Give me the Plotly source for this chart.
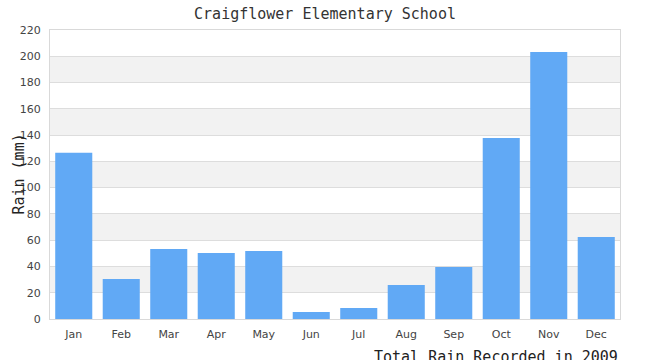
import plotly.graph_objects as go

months = ["Jan", "Feb", "Mar", "Apr", "May", "Jun", "Jul", "Aug", "Sep", "Oct", "Nov", "Dec"]
rain_mm = [126.5, 30.5, 53.3, 50.2, 51.8, 5.3, 8.4, 25.9, 39.6, 137.8, 203.3, 62.4]
y_ticks = list(range(0, 221, 20))

title_text = "Craigflower Elementary School"
y_title = "Rain (mm)"
x_note = "Total Rain Recorded in 2009"

mono = "DejaVu Sans Mono"
sans = "DejaVu Sans"

fig = go.Figure()
fig.add_trace(go.Bar(x=months, y=rain_mm, marker=dict(color="#61a9f5", line=dict(width=0)),
                     hoverinfo="x+y"))

shapes = []
for i in range(len(y_ticks) - 1):
    if i % 2 == 1:
        shapes.append(dict(type="rect", xref="paper", yref="y", x0=0, x1=1,
                           y0=y_ticks[i], y1=y_ticks[i + 1],
                           fillcolor="#f2f2f2", line=dict(width=0), layer="below"))

fig.update_layout(
    width=650, height=360,
    margin=dict(l=50, r=30, t=30, b=41),
    paper_bgcolor="white", plot_bgcolor="white",
    bargap=0.22,
    showlegend=False,
    shapes=shapes,
    title=dict(text=title_text, x=0.5, xanchor="center", y=0.961, yanchor="middle",
               font=dict(family=mono, size=15, color="#333333")),
    xaxis=dict(showgrid=False, showline=True, linecolor="#d9d9d9", linewidth=1, mirror=True,
               ticks="", ticklabelstandoff=5, automargin=False,
               tickfont=dict(family=sans, size=11, color="#444444"), fixedrange=True),
    yaxis=dict(range=[0, 220], tickvals=y_ticks, showgrid=True, gridcolor="#dddddd", gridwidth=1,
               showline=True, linecolor="#d9d9d9", linewidth=1, mirror=True, zeroline=False,
               ticks="", ticklabelstandoff=6, automargin=False,
               tickfont=dict(family=sans, size=11, color="#444444"),
               fixedrange=True),
    annotations=[
        dict(text=x_note, xref="paper", yref="paper", x=1, y=-0.093,
             xanchor="right", yanchor="top", showarrow=False,
             font=dict(family=mono, size=15, color="#222222")),
        dict(text=y_title, xref="paper", yref="paper", x=-0.056, y=0.5,
             xanchor="center", yanchor="middle", textangle=-90, showarrow=False,
             font=dict(family=mono, size=15, color="#222222")),
    ],
)

fig.write_html("out.html", post_script="document.body.style.margin='0';",
               config={"displayModeBar": False})
